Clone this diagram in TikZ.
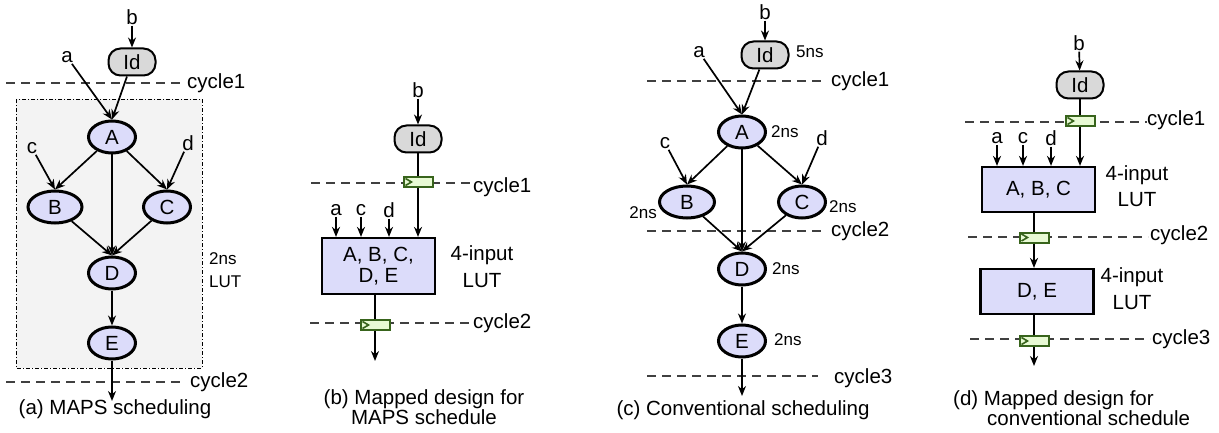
\documentclass[tikz,border=0pt]{standalone}
\usepackage{fontspec}
\setmainfont{Liberation Sans}
\usetikzlibrary{shapes.geometric,arrows.meta,positioning,calc}

\definecolor{opfill}{RGB}{220,220,250}
\definecolor{ldfill}{RGB}{217,217,217}
\definecolor{bgfill}{RGB}{243,243,243}
\definecolor{regfill}{RGB}{232,250,212}
\definecolor{regline}{RGB}{56,100,28}
\definecolor{dashcol}{RGB}{64,64,64}

\tikzset{
  op/.style={ellipse,draw,line width=3pt,fill=opfill,minimum width=47pt,minimum height=32pt,inner sep=0pt},
  ldbox/.style={draw,line width=2pt,fill=ldfill,rounded corners=12pt,minimum width=47pt,minimum height=27pt,inner sep=0pt},
  lut/.style={draw,line width=2.2pt,fill=opfill,minimum width=113pt,align=center,inner sep=0pt},
  reg/.style={draw=regline,line width=2pt,fill=regfill,minimum width=29pt,minimum height=10pt,inner sep=0pt,
    path picture={\draw[regline,line width=1.6pt]
      ([xshift=2pt,yshift=3.5pt]path picture bounding box.west) --
      ([xshift=8pt]path picture bounding box.west) --
      ([xshift=2pt,yshift=-3.5pt]path picture bounding box.west);}},
  wire/.style={line width=1.7pt,-{Stealth[length=10pt,width=8pt]}},
  plain/.style={line width=1.7pt},
  cyc/.style={draw=dashcol,line width=2.6pt,dash pattern=on 9pt off 6pt},
  lbl/.style={inner sep=1pt},
  cyclbl/.style={anchor=west,inner sep=0pt},
  ns/.style={font=\fontsize{17}{23}\selectfont,inner sep=0pt},
  lutlbl/.style={align=center,inner sep=0pt,font=\fontsize{20.5}{26.5}\selectfont},
  capt/.style={inner sep=0pt,font=\fontsize{20.5}{20.5}\selectfont}
}

\begin{document}
\begin{tikzpicture}[x=1pt,y=-1pt,font=\fontsize{20.5}{21}\selectfont]
  \useasboundingbox (0,0) rectangle (1219,433);

  % (a) MAPS scheduling
  \draw[fill=bgfill,line width=0.9pt,dash pattern=on 4pt off 2pt on 1pt off 2pt] (16,99) rectangle (202,368);
  \draw[cyc] (6,83) -- (185,83);
  \draw[cyc] (6,382) -- (185,382);
  \node[cyclbl] (cyc1a) at (187,83) {cycle1};
  \node[cyclbl] (cyc2a) at (190,382) {cycle2};
  \node[lbl] (inb1) at (132,17) {b};
  \node[ldbox] (ld1) at (132,62) {Id};
  \node[lbl] (ina1) at (67,57) {a};
  \node[op] (A1) at (112,137) {A};
  \node[op,minimum width=54pt] (B1) at (55,207) {B};
  \node[op] (C1) at (167,207) {C};
  \node[op] (D1) at (112,273) {D};
  \node[op] (E1) at (112,343) {E};
  \node[lbl] (inc1) at (32,148) {c};
  \node[lbl] (ind1) at (188,143) {d};
  \node[ns,anchor=west,align=left] (lat1) at (209,270) {2ns\\LUT};
  \coordinate (out1) at (112,401);
  \draw[wire] (inb1) -- (ld1);
  \draw[wire] (ina1) -- (A1.north);
  \draw[wire] (ld1) -- (A1.north);
  \draw[wire] (inc1) -- (B1.north);
  \draw[wire] (A1) -- (B1.north);
  \draw[wire] (A1) -- (C1.north);
  \draw[wire] (ind1) -- (C1.north);
  \draw[wire] (A1) -- (D1.north);
  \draw[wire] (B1) -- (D1.north);
  \draw[wire] (C1) -- (D1.north);
  \draw[wire] (D1) -- (E1);
  \draw[wire] (E1) -- (out1);
  \node[capt] (cap1) at (115,409) {(a) MAPS scheduling};

  % (b) mapped design for MAPS schedule
  \draw[cyc] (311,183) -- (470,183);
  \draw[cyc] (310,323) -- (470,323);
  \node[cyclbl] (cyc1b) at (473,187) {cycle1};
  \node[cyclbl] (cyc2b) at (473,323) {cycle2};
  \node[lbl] (inb2) at (418,90) {b};
  \node[ldbox] (ld2) at (418,139) {Id};
  \node[reg] (reg2a) at (418,182) {};
  \node[lut,minimum height=56pt] (lut2) at (378.5,266) {A, B, C,\\D, E};
  \node[lbl] (ina2) at (336,210) {a};
  \node[lbl] (inc2) at (361,210) {c};
  \node[lbl] (ind2) at (389,210) {d};
  \node[lutlbl] (lat2) at (482,266.5) {4-input\\LUT};
  \node[reg] (reg2b) at (375,325) {};
  \coordinate (out2) at (375,361);
  \draw[wire] (inb2) -- (ld2);
  \draw[plain] (ld2) -- (reg2a);
  \draw[wire] (reg2a) -- (reg2a |- lut2.north);
  \draw[wire] (ina2) -- (ina2 |- lut2.north);
  \draw[wire] (inc2) -- (inc2 |- lut2.north);
  \draw[wire] (ind2) -- (ind2 |- lut2.north);
  \draw[plain] (reg2b |- lut2.south) -- (reg2b);
  \draw[wire] (reg2b) -- (out2);
  \node[capt,align=center] (cap2) at (424,407) {(b) Mapped design for\\MAPS schedule};

  % (c) conventional scheduling
  \draw[cyc] (647,81) -- (823,81);
  \draw[cyc] (647,231) -- (825,231);
  \draw[cyc] (647,376) -- (818,376);
  \node[cyclbl] (cyc1c) at (831,81) {cycle1};
  \node[cyclbl] (cyc2c) at (831,231) {cycle2};
  \node[cyclbl] (cyc3c) at (834,378) {cycle3};
  \node[lbl] (inb3) at (765,12) {b};
  \node[ldbox] (ld3) at (765,55) {Id};
  \node[ns,anchor=west] (lat3) at (796,52) {5ns};
  \node[lbl] (ina3) at (699,52) {a};
  \node[op] (A3) at (742,132) {A};
  \node[op,minimum width=55pt] (B3) at (687,202) {B};
  \node[op] (C3) at (802,202) {C};
  \node[op] (D3) at (742,269) {D};
  \node[op] (E3) at (742,341) {E};
  \node[lbl] (inc3) at (665,143) {c};
  \node[lbl] (ind3) at (822,138) {d};
  \node[ns,anchor=west] (latA3) at (771,132) {2ns};
  \node[ns,anchor=east] (latB3) at (657,213) {2ns};
  \node[ns,anchor=west] (latC3) at (829,207) {2ns};
  \node[ns,anchor=west] (latD3) at (772,269) {2ns};
  \node[ns,anchor=west] (latE3) at (774,340) {2ns};
  \coordinate (out3) at (742,396);
  \draw[wire] (inb3) -- (ld3);
  \draw[wire] (ina3) -- (A3.north);
  \draw[wire] (ld3) -- (A3.north);
  \draw[wire] (inc3) -- (B3.north);
  \draw[wire] (A3) -- (B3.north);
  \draw[wire] (A3) -- (C3.north);
  \draw[wire] (ind3) -- (C3.north);
  \draw[wire] (A3) -- (D3.north);
  \draw[wire] (B3) -- (D3.north);
  \draw[wire] (C3) -- (D3.north);
  \draw[wire] (D3) -- (E3);
  \draw[wire] (E3) -- (out3);
  \node[capt] (cap3) at (743,410) {(c) Conventional scheduling};

  % (d) mapped design for conventional schedule
  \draw[cyc] (965,122) -- (1147,122);
  \draw[cyc] (968,237) -- (1148,237);
  \draw[cyc] (970,339) -- (1150,339);
  \node[cyclbl] (cyc1d) at (1147,120) {cycle1};
  \node[cyclbl] (cyc2d) at (1150,235) {cycle2};
  \node[cyclbl] (cyc3d) at (1152,339) {cycle3};
  \node[lbl] (inb4) at (1079,43) {b};
  \node[ldbox] (ld4) at (1080,85) {Id};
  \node[reg] (reg4a) at (1080,121) {};
  \node[lbl] (ina4) at (997,138) {a};
  \node[lbl] (inc4) at (1023,138) {c};
  \node[lbl] (ind4) at (1051,138) {d};
  \node[lut,minimum height=45pt] (lut4a) at (1038.5,189.5) {A, B, C};
  \node[lutlbl] (lat4a) at (1137,186) {4-input\\LUT};
  \node[reg] (reg4b) at (1034,237.5) {};
  \node[lut,minimum height=45pt] (lut4b) at (1037,291.5) {D, E};
  \node[lutlbl] (lat4b) at (1132,288.5) {4-input\\LUT};
  \node[reg] (reg4c) at (1034,341) {};
  \coordinate (out4) at (1034,366);
  \draw[wire] (inb4) -- (ld4);
  \draw[plain] (ld4) -- (reg4a);
  \draw[wire] (reg4a) -- (reg4a |- lut4a.north);
  \draw[wire] (ina4) -- (ina4 |- lut4a.north);
  \draw[wire] (inc4) -- (inc4 |- lut4a.north);
  \draw[wire] (ind4) -- (ind4 |- lut4a.north);
  \draw[plain] (reg4b |- lut4a.south) -- (reg4b);
  \draw[wire] (reg4b) -- (reg4b |- lut4b.north);
  \draw[plain] (reg4c |- lut4b.south) -- (reg4c);
  \draw[wire] (reg4c) -- (out4);
  \node[capt,align=left,anchor=west] (cap4) at (953,408) {(d) Mapped design for\\\hspace*{34pt}conventional schedule};
\end{tikzpicture}
\end{document}
